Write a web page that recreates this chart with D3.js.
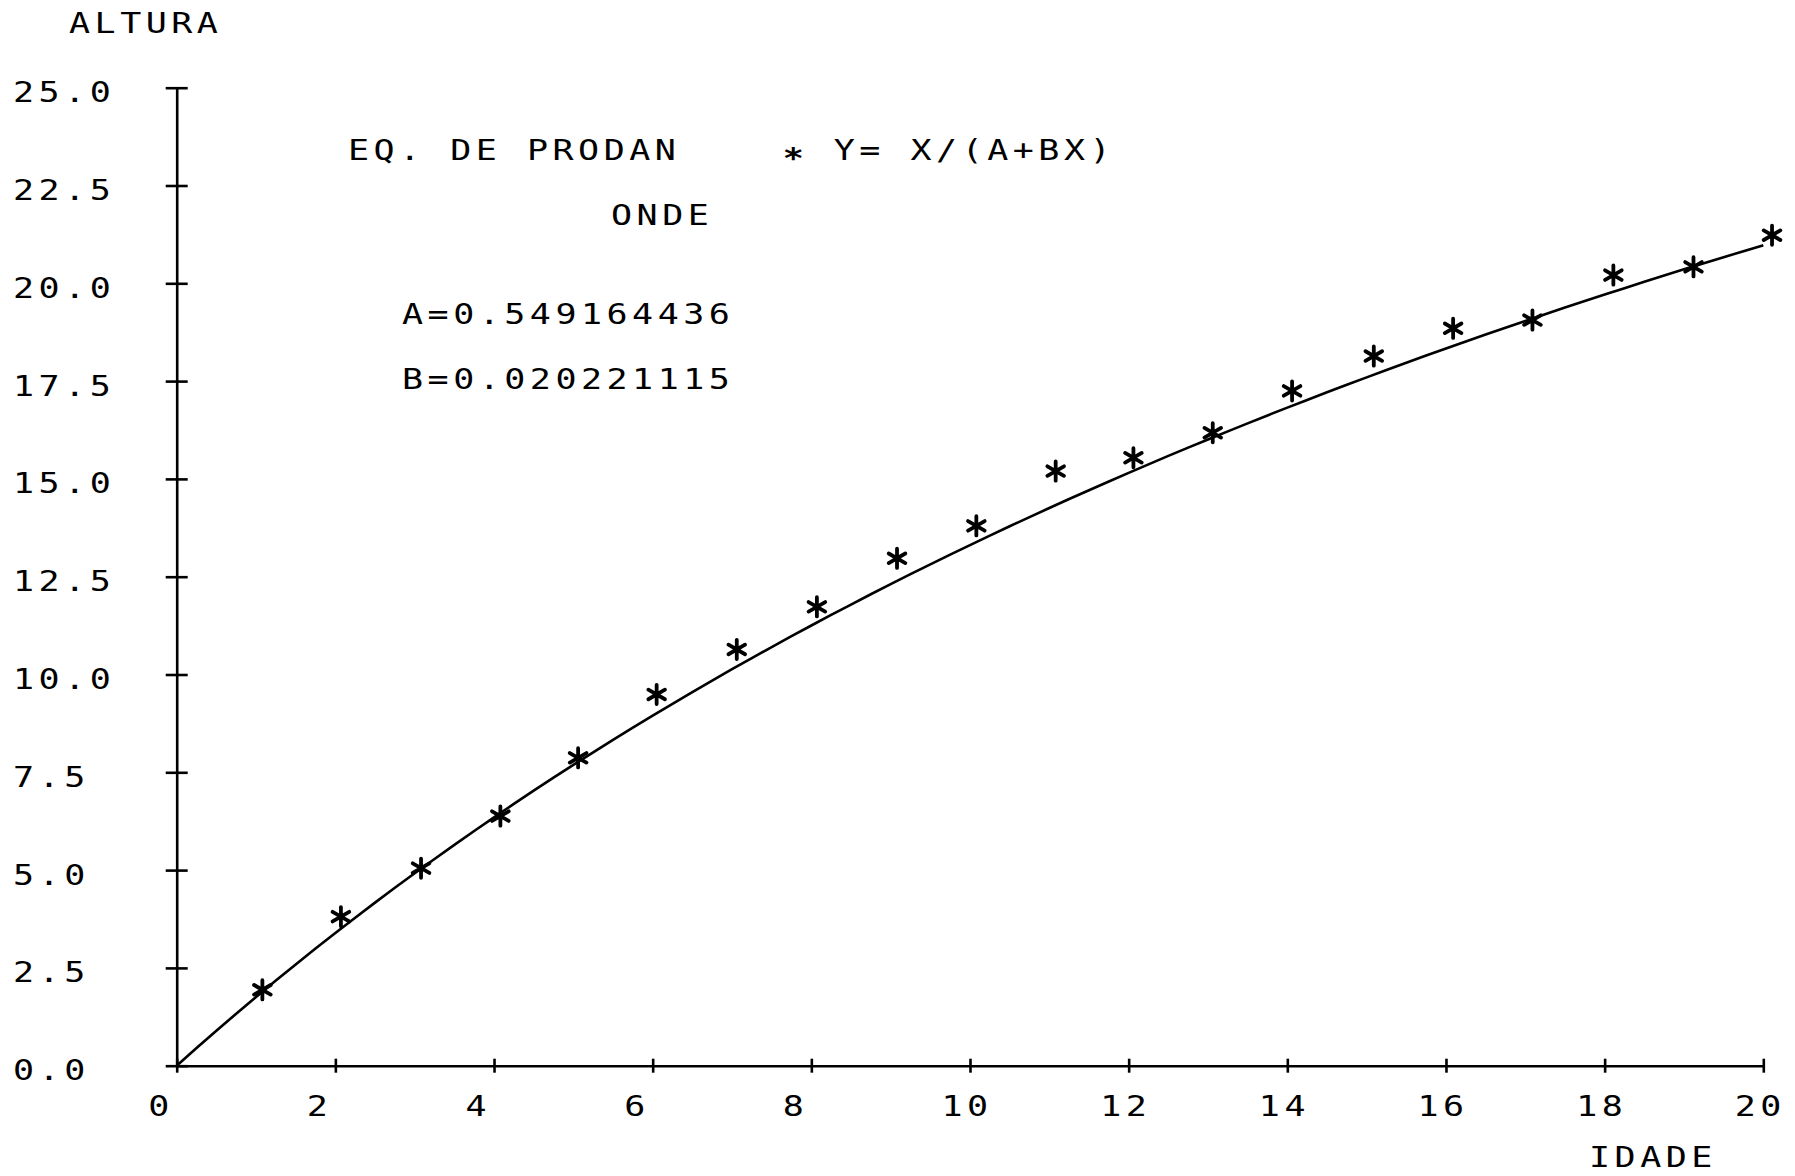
<!DOCTYPE html>
<html>
<head>
<meta charset="utf-8">
<script src="https://cdn.jsdelivr.net/npm/d3@7"></script>
<style>
  html, body { margin: 0; padding: 0; background: #fff; }
  svg { display: block; }
  text { font-family: "DejaVu Sans Mono", "Liberation Mono", monospace; font-size: 28px; letter-spacing: 3.6px; fill: #000; white-space: pre; }
</style>
</head>
<body>
<svg id="chart" width="1795" height="1176"></svg>
<script>
// observed points (idade, altura)
const ages = [1.08, 2.07, 3.08, 4.08, 5.06, 6.05, 7.06, 8.07, 9.08, 10.08,
              11.08, 12.06, 13.06, 14.06, 15.09, 16.09, 17.09, 18.11, 19.12, 20.11];
const heights = [1.94, 3.81, 5.05, 6.38, 7.87, 9.49, 10.64, 11.73, 12.97, 13.80,
                 15.20, 15.54, 16.18, 17.25, 18.14, 18.85, 19.06, 20.21, 20.42, 21.23];

// fitted Prodan coefficients, as printed on the chart
const A = 0.549164436;
const B = 0.020221115;

const xTicks = [0, 2, 4, 6, 8, 10, 12, 14, 16, 18, 20];
const yTicks = [0, 2.5, 5, 7.5, 10, 12.5, 15, 17.5, 20, 22.5, 25];

const titleLines = [
  {text: 'EQ. DE PRODAN    * Y= X/(A+BX)', x: 348, y: 160},
  {text: 'ONDE', x: 611, y: 225},
  {text: 'A=0.549164436', x: 402, y: 324},
  {text: 'B=0.020221115', x: 402, y: 389}
];

const svg = d3.select('#chart');

const x = d3.scaleLinear().domain([0, 20]).range([176.7, 1763.3]);
const y = d3.scaleLinear().domain([0, 25]).range([1065.7, 87.7]);

// plotter glyphs are wider than the mono font, so stretch text horizontally
const sx = 1.25;
const placeText = (sel, dx, dy) => sel
  .attr('x', 0)
  .attr('y', 0)
  .attr('dy', null)
  .attr('text-anchor', 'start')
  .attr('font-family', null)
  .attr('font-size', null)
  .attr('transform', `translate(${dx},${dy}) scale(${sx},1)`);

// axes (plotter style: ticks cross the axis line)
const yAxis = svg.append('g')
  .attr('transform', `translate(${x(0)},0)`)
  .call(d3.axisLeft(y).tickValues(yTicks).tickFormat(d3.format('.1f')).tickSizeOuter(0).tickSizeInner(11));
yAxis.select('.domain').attr('stroke', '#000').attr('stroke-width', 2.6);
yAxis.selectAll('.tick line').attr('x1', 11).attr('x2', -11).attr('stroke', '#000').attr('stroke-width', 2.6);
yAxis.selectAll('.tick text').call(placeText, 13 - x(0), 14);

const xAxis = svg.append('g')
  .attr('transform', `translate(0,${y(0)})`)
  .call(d3.axisBottom(x).tickValues(xTicks).tickFormat(d3.format('d')).tickSizeOuter(0).tickSizeInner(7));
xAxis.select('.domain').attr('stroke', '#000').attr('stroke-width', 2.6);
xAxis.selectAll('.tick line').attr('y1', -7).attr('y2', 7).attr('stroke', '#000').attr('stroke-width', 2.6);
xAxis.selectAll('.tick text').call(placeText, -29, 50);

// axis titles
svg.append('text').text('ALTURA').call(placeText, 69, 33);
svg.append('text').text('IDADE').call(placeText, 1589, 1167);

// fitted curve Y = X/(A+BX)
const curveAges = d3.range(0, 20.001, 0.25);
const line = d3.line()
  .x(d => x(d))
  .y(d => y(d / (A + B * d)))
  .curve(d3.curveMonotoneX);
svg.append('path')
  .datum(curveAges)
  .attr('d', line)
  .attr('fill', 'none')
  .attr('stroke', '#000')
  .attr('stroke-width', 2.6);

// observed points as asterisks
const star = d3.symbol().type(d3.symbolAsterisk || d3.symbolCross).size(260);
svg.append('g')
  .selectAll('path')
  .data(ages.map((a, i) => ({a, h: heights[i]})))
  .join('path')
  .attr('transform', d => `translate(${x(d.a)},${y(d.h)})`)
  .attr('d', star)
  .attr('fill', 'none')
  .attr('stroke', '#000')
  .attr('stroke-width', 3.8)
  .attr('stroke-linecap', 'round');

// annotation block; the plotter '*' sits on the middle of the line, not high
svg.append('g')
  .selectAll('text')
  .data(titleLines)
  .join('text')
  .each(function (d) {
    const t = d3.select(this).call(placeText, d.x, d.y);
    let shift = 0;
    d.text.split(/(\*)/).filter(p => p).forEach(part => {
      const span = t.append('tspan').text(part);
      if (part === '*') {
        span.attr('dy', 8).style('font-weight', 'bold');
        shift = -8;
      } else if (shift) {
        span.attr('dy', shift);
        shift = 0;
      }
    });
  });
</script>
</body>
</html>
